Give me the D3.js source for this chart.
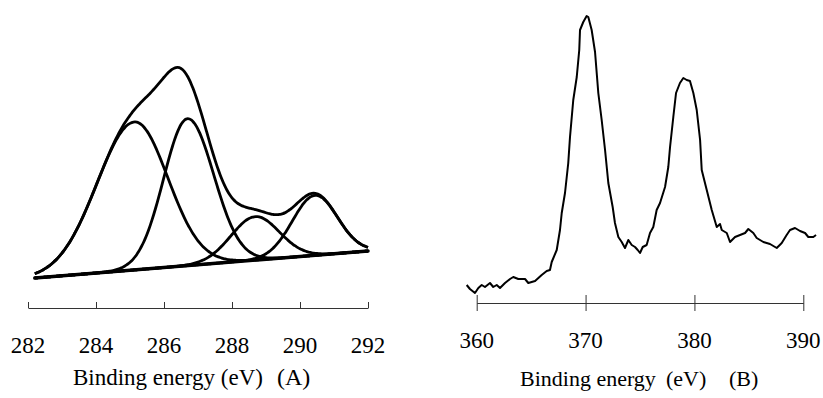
<!DOCTYPE html>
<html>
<head>
<meta charset="utf-8">
<script src="https://cdn.jsdelivr.net/npm/d3@7"></script>
</head>
<body style="margin:0">
<script>
// ---- panel A: C 1s fit (peaks) ----
var peakCenter = [285.13, 286.69, 288.68, 290.44];
var peakHeight = [148, 147, 43.5, 60];
var peakWidthLeft = [1.1, 0.70, 0.71, 0.66];
var peakWidthRight = [0.98, 0.77, 0.71, 0.66];
var bgEnergy = [282.2, 292];
var bgLevel = [12, 39];
var ticksA = [282, 284, 286, 288, 290, 292];

// ---- panel B: measured spectrum ----
var energyB = [359.08, 359.38, 359.84, 360.15, 360.46, 360.76, 361.22, 361.52, 361.84, 362.14,
  362.60, 363.06, 363.36, 363.82, 364.44, 364.74, 365.36, 365.97, 366.43, 366.73,
  366.89, 367.35, 367.65, 367.81, 368.11, 368.41, 368.57, 368.87, 369.19, 369.42,
  369.49, 369.79, 370.10, 370.25, 370.56, 370.87, 371.17, 371.48, 371.79, 372.09,
  372.49, 372.70, 373.01, 373.32, 373.62, 373.93, 374.24, 374.54, 374.79, 375.00,
  375.25, 375.61, 375.92, 376.22, 376.53, 376.84, 377.30, 377.60, 377.76, 378.06,
  378.31, 378.67, 378.98, 379.29, 379.59, 379.90, 380.21, 380.52, 380.67, 381.13,
  381.59, 382.05, 382.35, 382.51, 382.97, 383.27, 383.73, 384.19, 384.65, 384.95,
  385.41, 385.72, 386.33, 386.94, 387.56, 388.02, 388.47, 388.78, 389.24, 389.70,
  390.16, 390.46, 390.92, 391.17];
var countsB = [15, 11, 7, 12, 15, 13, 17, 13, 15, 12,
  17, 21, 23, 21, 21, 17, 19, 25, 29, 30,
  38, 50, 70, 87, 107, 137, 163, 200, 223, 250,
  270, 278, 284, 283, 270, 248, 207, 180, 150, 117,
  93, 77, 63, 58, 52, 60, 55, 53, 50, 47,
  53, 55, 67, 73, 90, 97, 113, 133, 153, 183,
  207, 217, 222, 220, 219, 207, 190, 160, 130, 110,
  90, 73, 76, 70, 67, 58, 63, 65, 67, 71,
  67, 62, 58, 56, 52, 57, 65, 70, 72, 69,
  67, 63, 63, 65];
var ticksB = [360, 370, 380, 390];

var svg = d3.select("body").append("svg")
    .attr("width", 823)
    .attr("height", 398)
    .style("display", "block");

// scales
var xA = d3.scaleLinear().domain([282, 292]).range([28, 368]);
var yA = d3.scaleLinear().domain([0, 250]).range([290, 40]);
var xB = d3.scaleLinear().domain([360, 390]).range([476.7, 803.3]);
var yB = d3.scaleLinear().domain([0, 300]).range([300, 0]);

var bg = d3.scaleLinear().domain(bgEnergy).range(bgLevel);

function peak(i, e) {
    var w = e < peakCenter[i] ? peakWidthLeft[i] : peakWidthRight[i];
    var d = e - peakCenter[i];
    return peakHeight[i] * Math.exp(-d * d / (2 * w * w));
}

var grid = d3.range(bgEnergy[0], bgEnergy[1] + 0.0001, 0.05);
var lineA = d3.line().x(d => xA(d[0])).y(d => yA(d[1])).curve(d3.curveBasis);

var gA = svg.append("g");
// components
peakCenter.forEach(function (c, i) {
    gA.append("path")
        .attr("d", lineA(grid.map(e => [e, bg(e) + peak(i, e)])))
        .attr("fill", "none")
        .attr("stroke", "#000")
        .attr("stroke-width", 2.8);
});
// envelope
gA.append("path")
    .attr("d", lineA(grid.map(e => [e, bg(e) + d3.sum(peakCenter, (c, i) => peak(i, e))])))
    .attr("fill", "none")
    .attr("stroke", "#000")
    .attr("stroke-width", 2.8);
// background line
gA.append("path")
    .attr("d", lineA(bgEnergy.map(e => [e, bg(e)])))
    .attr("fill", "none")
    .attr("stroke", "#000")
    .attr("stroke-width", 3.5)
    .attr("stroke-linecap", "round");

// panel B curve
svg.append("path")
    .datum(d3.zip(energyB, countsB))
    .attr("d", d3.line().x(d => xB(d[0])).y(d => yB(d[1])))
    .attr("fill", "none")
    .attr("stroke", "#000")
    .attr("stroke-width", 2)
    .attr("stroke-linejoin", "round");

// axes: lines from d3.axis, labels written as plain text
var axA = svg.append("g")
    .attr("transform", "translate(0,308)")
    .call(d3.axisBottom(xA).tickValues(ticksA).tickSizeInner(-6).tickSizeOuter(0).tickFormat(""));
axA.select(".domain").attr("stroke", "#333");
axA.selectAll(".tick line").attr("stroke", "#333");

var axB = svg.append("g")
    .attr("transform", "translate(0,303)")
    .call(d3.axisBottom(xB).tickValues(ticksB).tickSizeInner(8).tickSizeOuter(0).tickFormat(""));
axB.select(".domain").attr("stroke", "#333");
axB.selectAll(".tick line").attr("stroke", "#333").attr("y1", -8);

function label(x, y, size, txt, anchor) {
    svg.append("text")
        .attr("x", x).attr("y", y)
        .attr("font-size", size)
        .attr("text-anchor", anchor || "start")
        .style("font-family", "'Liberation Serif'")
        .text(txt);
}

ticksA.forEach(t => label(xA(t), 353, 23, String(t), "middle"));
ticksB.forEach(t => label(xB(t), 348, 23, String(t), "middle"));

label(73, 385, 23, "Binding energy (eV)");
label(277, 385, 24, "(A)");
label(520, 386, 22, "Binding energy");
label(666, 386, 22, "(eV)");
label(729, 386, 22, "(B)");
</script>
</body>
</html>
